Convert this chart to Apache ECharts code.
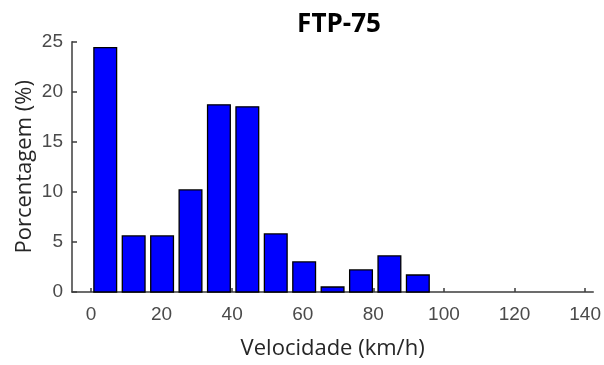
<!DOCTYPE html>
<html>
<head>
<meta charset="utf-8">
<script src="https://cdn.jsdelivr.net/npm/echarts@6/dist/echarts.min.js"></script>
<style>
  html, body { margin: 0; padding: 0; background: #ffffff; }
  #chart { width: 604px; height: 365px; }
</style>
</head>
<body>
<div id="chart"></div>
<script>
// Speed distribution of the FTP-75 drive cycle (histogram, 12 bins)
const binCenters = [4.05, 12.1, 20.15, 28.2, 36.25, 44.3, 52.35, 60.4, 68.45, 76.5, 84.55, 92.6];
const percentages = [24.4, 5.6, 5.6, 10.2, 18.7, 18.5, 5.8, 3.0, 0.5, 2.2, 3.6, 1.7];
const binWidth = 8.05;
const xTicks = [0, 20, 40, 60, 80, 100, 120, 140];
const yTicks = [0, 5, 10, 15, 20, 25];

const chart = echarts.init(document.getElementById('chart'), null, { renderer: 'canvas' });

const tickFont = { fontFamily: 'Liberation Sans', fontSize: 19, color: '#4a4a4a' };
const nameFont = { fontFamily: 'Open Sans', fontSize: 22, color: '#262626' };
const axisLineStyle = { color: '#3c3c3c', width: 1.5 };

chart.setOption({
  animation: false,
  backgroundColor: '#ffffff',
  title: {
    text: 'FTP-75',
    left: 334,
    top: 7,
    textAlign: 'center',
    textStyle: { fontFamily: 'Open Sans', fontWeight: 'bold', fontSize: 26, color: '#000000' }
  },
  grid: { left: 72, right: 9, top: 41.7, bottom: 71 },
  xAxis: {
    type: 'value',
    min: -5.37,
    max: 142.3,
    name: 'Velocidade (km/h)',
    nameLocation: 'middle',
    nameGap: 46,
    nameTextStyle: nameFont,
    axisLine: { show: true, onZero: false, lineStyle: axisLineStyle },
    axisTick: { show: true, inside: true, length: 4, lineStyle: axisLineStyle, customValues: xTicks },
    axisLabel: { ...tickFont, margin: 13, customValues: xTicks },
    splitLine: { show: false }
  },
  yAxis: {
    type: 'value',
    min: 0,
    max: 25,
    interval: 5,
    name: 'Porcentagem (%)',
    nameLocation: 'middle',
    nameGap: 36,
    nameMoveOverlap: false,
    nameTextStyle: nameFont,
    axisLine: { show: true, onZero: false, lineStyle: axisLineStyle },
    axisTick: { show: true, inside: true, length: 5, lineStyle: axisLineStyle, customValues: yTicks },
    axisLabel: { ...tickFont, margin: 9, customValues: yTicks },
    splitLine: { show: false }
  },
  series: [{
    type: 'custom',
    data: binCenters.map((c, i) => [c, percentages[i]]),
    renderItem: function (params, api) {
      const c = api.value(0);
      const h = api.value(1);
      const p0 = api.coord([c - binWidth * 0.4, h]);
      const p1 = api.coord([c + binWidth * 0.4, 0]);
      return {
        type: 'rect',
        shape: { x: p0[0], y: p0[1], width: p1[0] - p0[0], height: p1[1] - p0[1] },
        style: { fill: '#0000ff', stroke: '#000000', lineWidth: 1.3 }
      };
    }
  }]
});
</script>
</body>
</html>
